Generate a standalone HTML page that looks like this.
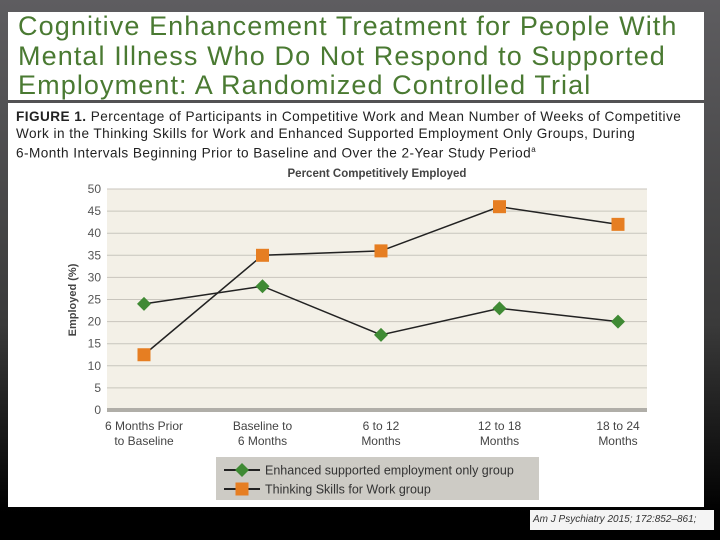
<!DOCTYPE html>
<html><head><meta charset="utf-8"><style>
body{margin:0;width:720px;height:540px;overflow:hidden;background:linear-gradient(#5e5d60,#3a3a3a 60%,#000 95%);font-family:"Liberation Sans",sans-serif;position:relative}
#tbox{position:absolute;left:8px;top:12px;width:696px;height:88px;background:#fff}
#tbox div{position:absolute;left:10px;top:0px;color:#4a7a32;font-size:27px;line-height:29.5px;letter-spacing:1.1px;white-space:nowrap}
#fbox{position:absolute;left:8px;top:103px;width:696px;height:404px;background:#fff}
#cap{position:absolute;left:8px;top:6px;font-size:13.6px;line-height:16.5px;color:#222;letter-spacing:0.45px;white-space:nowrap}
#cite{position:absolute;left:530px;top:510px;width:184px;height:20px;background:#f4f4f4;font-size:10px;font-style:italic;color:#333;line-height:20px;padding-left:3px;box-sizing:border-box;white-space:nowrap;overflow:hidden}
</style></head><body>
<div id="tbox"><div>Cognitive Enhancement Treatment for People With<br>Mental Illness Who Do Not Respond to Supported<br>Employment: A Randomized Controlled Trial</div></div>
<div id="fbox">
<div id="cap"><b>FIGURE 1.</b> Percentage of Participants in Competitive Work and Mean Number of Weeks of Competitive<br>Work in the Thinking Skills for Work and Enhanced Supported Employment Only Groups, During<br>6-Month Intervals Beginning Prior to Baseline and Over the 2-Year Study Period<sup style="font-size:8px">a</sup></div>
</div>
<svg id="chart" width="720" height="540" style="position:absolute;left:0;top:0"></svg>
<div id="cite">Am J Psychiatry 2015; 172:852–861;</div>
<script>
const categories=[["6 Months Prior","to Baseline"],["Baseline to","6 Months"],["6 to 12","Months"],["12 to 18","Months"],["18 to 24","Months"]];
const esValues=[24,28,17,23,20];
const tswValues=[12.5,35,36,46,42];
const yTicks=[0,5,10,15,20,25,30,35,40,45,50];
const NS="http://www.w3.org/2000/svg";
const svg=document.getElementById('chart');
const L=107,R=647,T=189,B=410;
const y=v=>B-(v/50)*(B-T);
const x=i=>144+i*((618-144)/(categories.length-1));
function mk(t,a,p){const e=document.createElementNS(NS,t);for(const k in a)e.setAttribute(k,a[k]);(p||svg).appendChild(e);return e;}
const bg=mk('rect',{x:L,y:T,width:R-L,height:B-T,fill:'#f3f0e7'});


yTicks.forEach(v=>{
 const ln=mk('line',{x1:L,x2:R,y1:y(v),y2:y(v),stroke:v===0?'#b0aea8':'#c8c5bd','stroke-width':v===0?4:1});
 
 
 const t=mk('text',{x:101,y:y(v)+4,'text-anchor':'end','font-size':12,fill:'#555'});t.textContent=v;
 
 
});
categories.forEach((c,i)=>{
 const t=mk('text',{x:x(i),y:430,'text-anchor':'middle','font-size':12,fill:'#444'});
 
 
 c.forEach((s,j)=>{const ts=mk('tspan',{x:x(i),dy:j?15:0},t);ts.textContent=s;});
});
const yt=mk('text',{transform:'translate(76,300) rotate(-90)','text-anchor':'middle','font-size':11,'font-weight':'bold',fill:'#444'});yt.textContent='Employed (%)';


const ct=mk('text',{x:377,y:177,'text-anchor':'middle','font-size':11.5,'font-weight':'bold',fill:'#444'});ct.textContent='Percent Competitively Employed';


function series(vals,kind,name){
 const pl=mk('polyline',{points:vals.map((v,i)=>x(i)+','+y(v)).join(' '),fill:'none',stroke:'#222','stroke-width':1.5});
 
 
 vals.forEach((v,i)=>{
  let m;
  if(kind==='d')m=mk('polygon',{points:`${x(i)},${y(v)-7} ${x(i)+7},${y(v)} ${x(i)},${y(v)+7} ${x(i)-7},${y(v)}`,fill:'#3f8a34'});
  else m=mk('rect',{x:x(i)-6.5,y:y(v)-6.5,width:13,height:13,fill:'#e67e22'});
  
  
 });
}
series(esValues,'d','enhanced-supported-employment');
series(tswValues,'s','thinking-skills-for-work');
const lg=mk('rect',{x:216,y:457,width:323,height:43,fill:'#cdcbc5'});


[['Enhanced supported employment only group','d'],['Thinking Skills for Work group','s']].forEach((e,k)=>{
 const yy=470+k*19;
 const g=mk('g',{});
 
 
 mk('line',{x1:224,x2:260,y1:yy,y2:yy,stroke:'#222','stroke-width':2},g);
 if(e[1]==='d')mk('polygon',{points:`242,${yy-7} 249,${yy} 242,${yy+7} 235,${yy}`,fill:'#3f8a34'},g);
 else mk('rect',{x:235.5,y:yy-6.5,width:13,height:13,fill:'#e67e22'},g);
 const t=mk('text',{x:265,y:yy+4.5,'font-size':12.5,fill:'#333'},g);t.textContent=e[0];
});
</script>
</body></html>
